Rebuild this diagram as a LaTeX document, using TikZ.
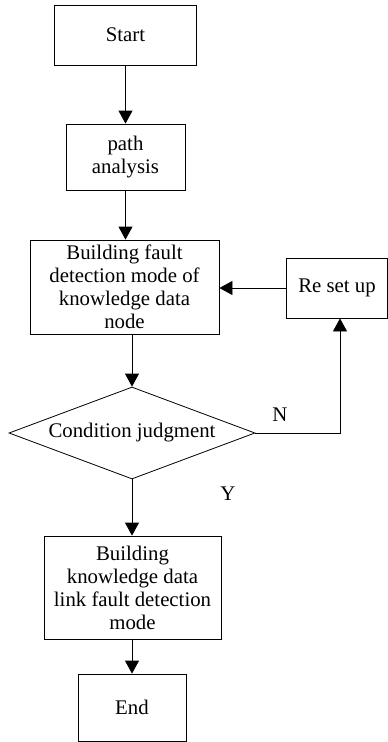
\documentclass[tikz,border=0pt]{standalone}
\usepackage{fontspec}
\setmainfont{Liberation Serif}
\usetikzlibrary{shapes.geometric,arrows.meta,calc}
\begin{document}
\begin{tikzpicture}[x=1pt,y=-1pt,
  every node/.style={font=\fontsize{20.8}{23}\selectfont},
  box/.style={draw,line width=0.8pt,align=center,inner sep=0pt},
  arr/.style={line width=0.8pt,-{Triangle[length=13pt,width=14pt]}},
  lbl/.style={inner sep=0pt}]
\useasboundingbox (0,0) rectangle (388,742);
\node[box,minimum width=142,minimum height=60] (start) at (125.5,35) {Start};
\node[box,minimum width=119,minimum height=66] (path) at (125.5,157) {path\\analysis};
\node[box,minimum width=189,minimum height=94] (b1) at (124.5,287) {Building fault\\detection mode of\\knowledge data\\node};
\node[box,minimum width=101,minimum height=60] (reset) at (337,288) {Re set up};
\node[draw,line width=0.8pt,shape=diamond,aspect=2.674,inner sep=0pt,minimum width=246,minimum height=92] (dia) at (132,433) {Condition judgment};
\node[box,minimum width=177,minimum height=103] (b2) at (132.5,587.5) {Building\\knowledge data\\link fault detection\\mode};
\node[box,minimum width=108,minimum height=67] (end) at (132,707.5) {End};
\coordinate (nc) at (340,433);
\node[lbl] (N) at (280,415) {N};
\node[lbl] (Y) at (228,494) {Y};
\draw[arr] (start) -- (path);
\draw[arr] (path) -- (path |- b1.north);
\draw[arr] (b1.south -| dia.north) -- (dia.north);
\draw[arr] (dia.south) -- (dia.south |- b2.north);
\draw[arr] (b2.south -| end.north) -- (end.north);
\draw[arr] (reset.west) -- (reset.west -| b1.east);
\draw[arr] (dia.east) -- (nc) -- (nc |- reset.south);
\end{tikzpicture}
\end{document}
